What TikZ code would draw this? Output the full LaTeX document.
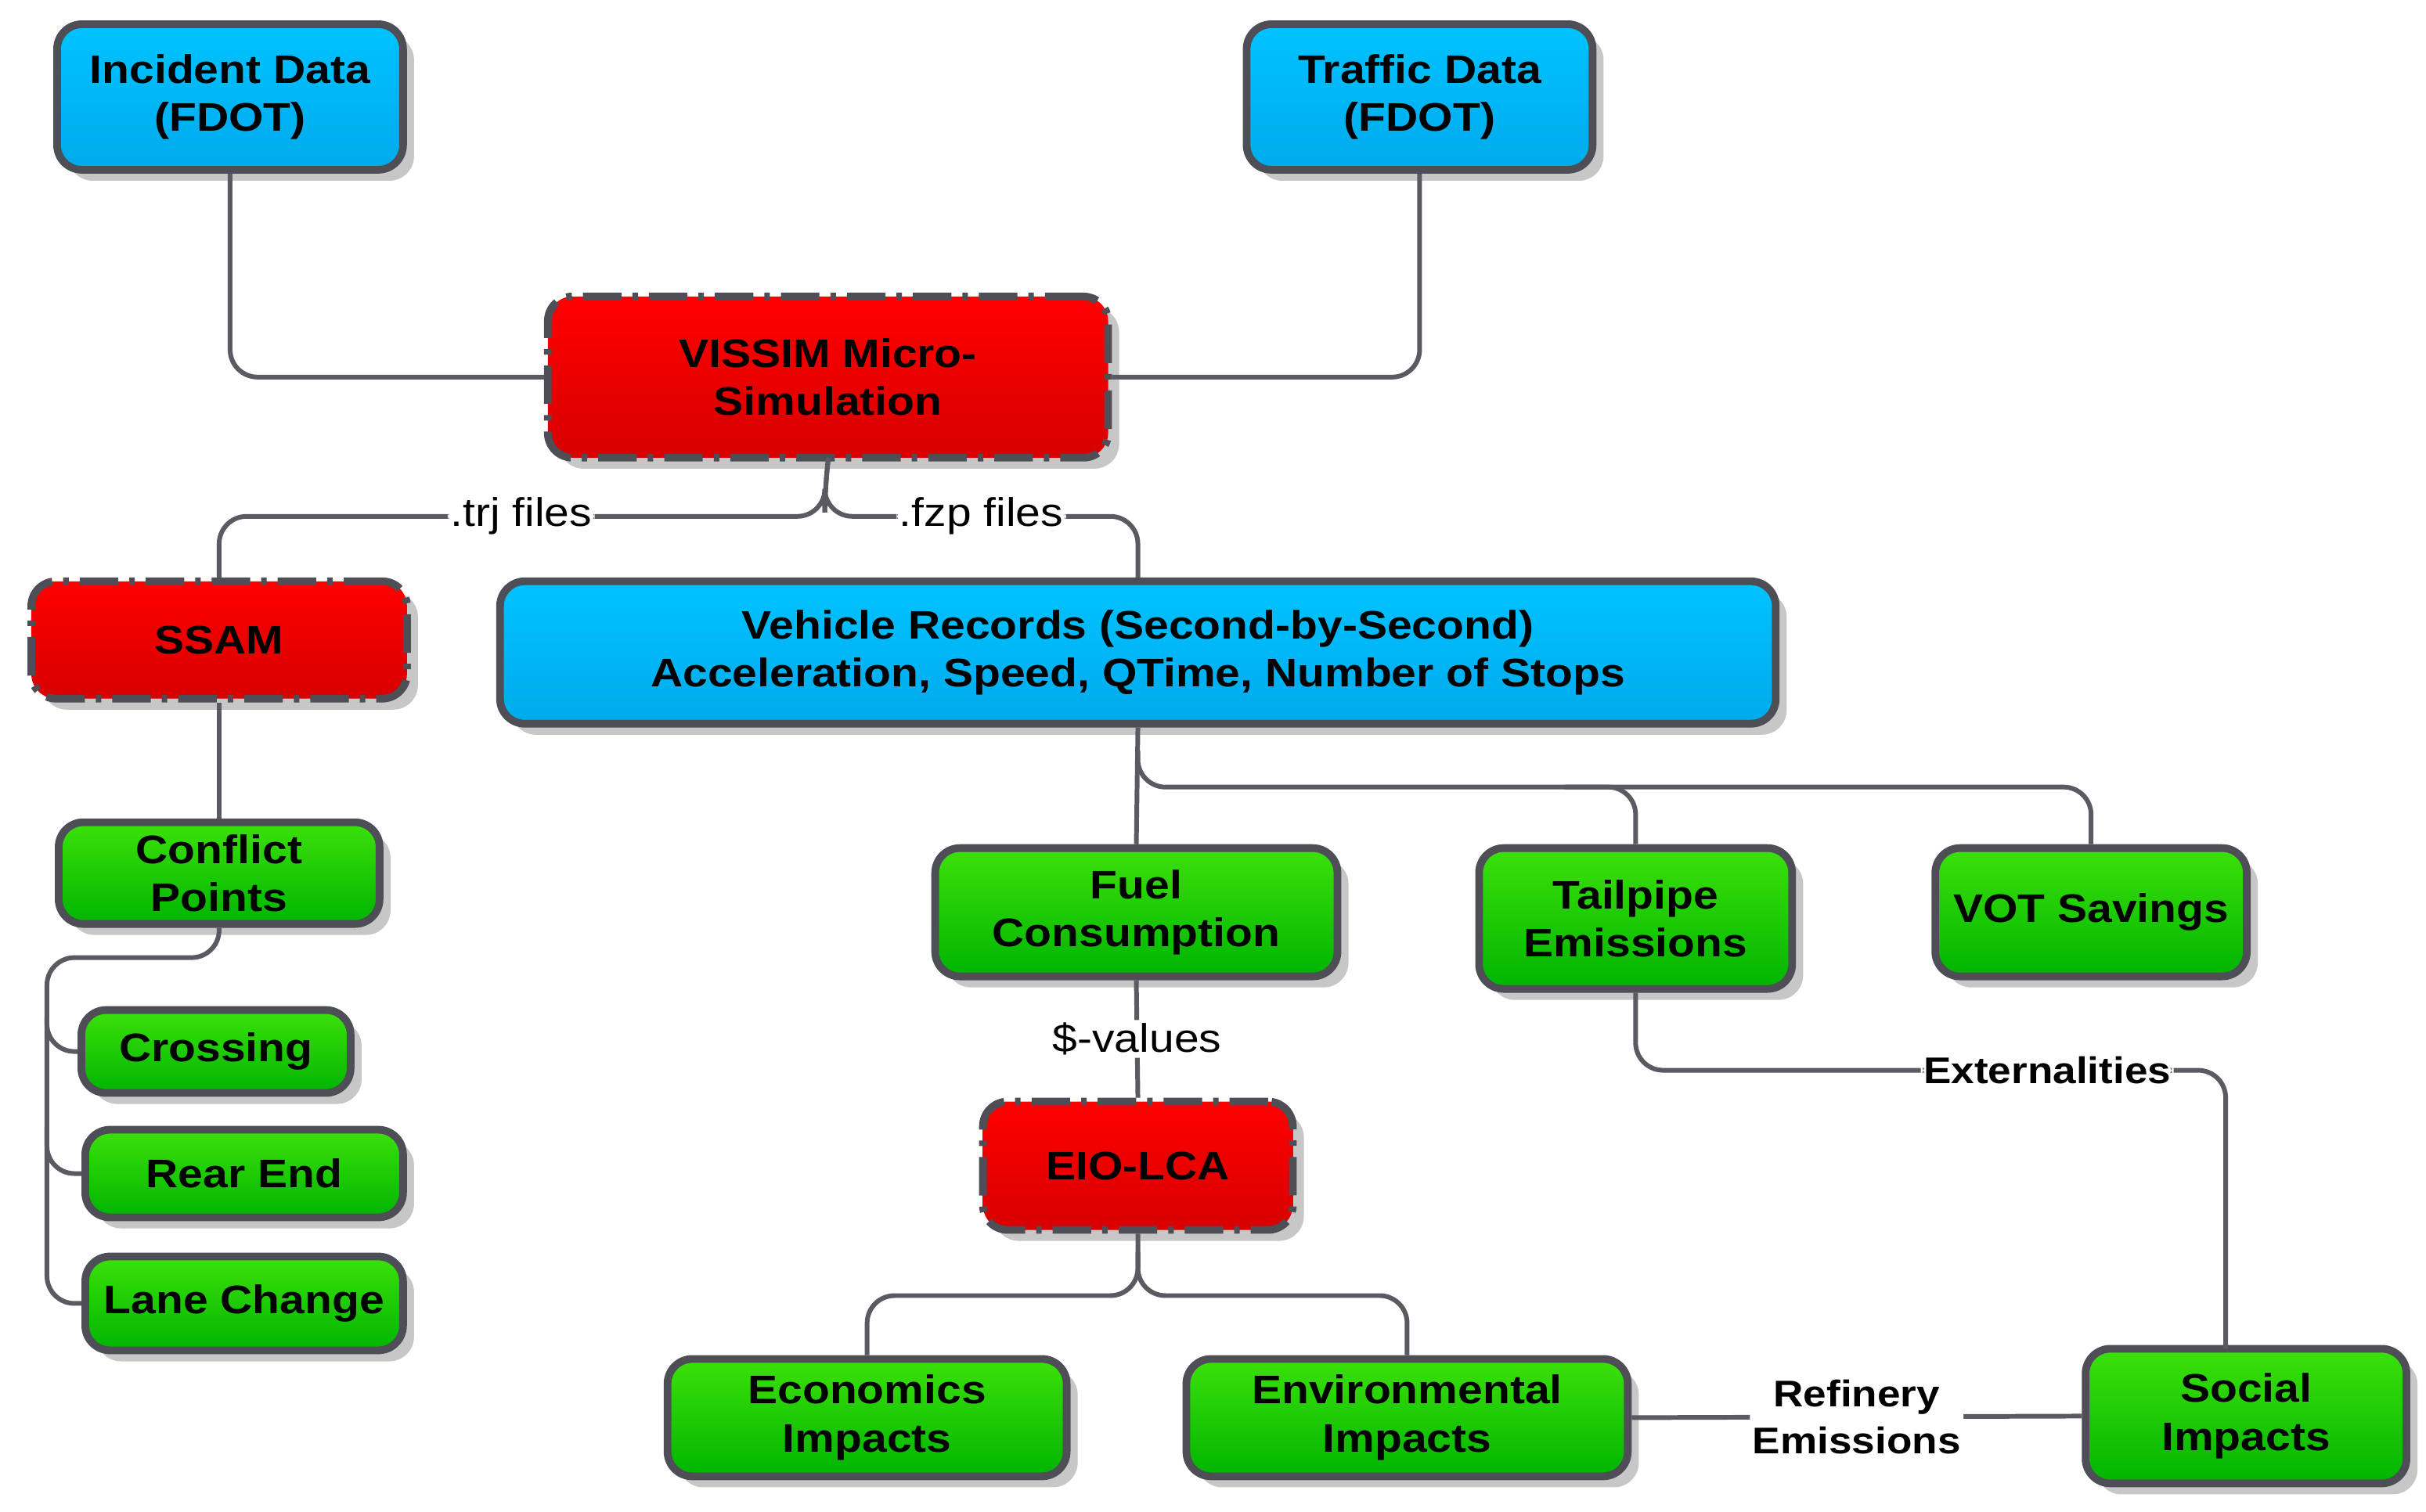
\documentclass[tikz,border=0pt]{standalone}
\usepackage{fontspec}
\setmainfont{Liberation Sans}[FakeStretch=1.12]
\usetikzlibrary{shadows}
\definecolor{bd}{HTML}{4E4E56}
\definecolor{ln}{HTML}{5A5A62}
\tikzset{
  x=0.02cm,y=-0.02cm,
  box/.style={draw=bd,line width=2.8pt,rounded corners=9pt,align=center,
    font=\bfseries\fontsize{14.5}{17.5}\selectfont,text=black,inner sep=0pt,
    drop shadow={shadow xshift=4pt,shadow yshift=-4pt,fill=black!22,opacity=1}},
  blue/.style={box,top color={rgb,255:red,0;green,195;blue,255},bottom color={rgb,255:red,0;green,170;blue,235}},
  red/.style={box,top color={rgb,255:red,255;green,0;blue,0},bottom color={rgb,255:red,215;green,0;blue,0},
    dash pattern=on 14pt off 4pt on 2pt off 4pt},
  green/.style={box,top color={rgb,255:red,60;green,225;blue,10},bottom color={rgb,255:red,0;green,180;blue,0}},
  con/.style={draw=ln,line width=1.7pt,rounded corners=10pt},
  lab/.style={fill=white,inner sep=1pt,font=\fontsize{14.5}{17}\selectfont},
  blab/.style={fill=white,inner sep=1pt,font=\bfseries\fontsize{13.5}{17}\selectfont,align=center},
}
\begin{document}
\begin{tikzpicture}
\useasboundingbox (0,0) rectangle (1550,966);
\fill[white] (0,0) rectangle (1550,966);
\node[blue,minimum width=221*0.02cm,minimum height=93*0.02cm] (inc) at (147,62) {Incident Data\\(FDOT)};
\node[blue,minimum width=221*0.02cm,minimum height=93*0.02cm] (tra) at (907,62) {Traffic Data\\(FDOT)};
\node[red,minimum width=358*0.02cm,minimum height=103*0.02cm] (vis) at (529,241) {VISSIM Micro-\\Simulation};
\node[red,minimum width=240*0.02cm,minimum height=75*0.02cm] (ssam) at (140,409) {SSAM};
\node[blue,minimum width=815*0.02cm,minimum height=91*0.02cm] (veh) at (727,417) {Vehicle Records (Second-by-Second)\\Acceleration, Speed, QTime, Number of Stops};
\node[green,minimum width=205*0.02cm,minimum height=65*0.02cm] (con) at (140,558) {Conflict\\Points};
\node[green,minimum width=172*0.02cm,minimum height=53*0.02cm] (cro) at (138,672) {Crossing};
\node[green,minimum width=203*0.02cm,minimum height=56*0.02cm] (rea) at (156,750) {Rear End};
\node[green,minimum width=203*0.02cm,minimum height=60*0.02cm] (lan) at (156,833) {Lane Change};
\node[green,minimum width=257*0.02cm,minimum height=82*0.02cm] (fue) at (726,583) {Fuel\\Consumption};
\node[green,minimum width=200*0.02cm,minimum height=90*0.02cm] (tai) at (1045,587) {Tailpipe\\Emissions};
\node[green,minimum width=199*0.02cm,minimum height=82*0.02cm] (vot) at (1336,583) {VOT Savings};
\node[red,minimum width=198*0.02cm,minimum height=82*0.02cm] (eio) at (727,745) {EIO-LCA};
\node[green,minimum width=255*0.02cm,minimum height=75*0.02cm] (eco) at (554,906) {Economics\\Impacts};
\node[green,minimum width=282*0.02cm,minimum height=75*0.02cm] (env) at (899,906) {Environmental\\Impacts};
\node[green,minimum width=205*0.02cm,minimum height=86*0.02cm] (soc) at (1435,905) {Social\\Impacts};
\draw[con] (inc.south) -- (147,241) -- (vis.west);
\draw[con] (tra.south) -- (907,241) -- (vis.east);
\draw[con] (vis.south) -- (527,310) |- (333,330) node[lab]{.trj files} -- (140,330) -- (ssam.north);
\draw[con] (vis.south) -- (527,310) |- (627,330) node[lab]{.fzp files} -- (727,330) -- (veh.north);
\draw[con] (ssam.south) -- (con.north);
\draw[con] (con.south) -- (140,612) -- (30,612) -- (30,672) -- (cro.west);
\draw[con] (30,650) -- (30,750) -- (rea.west);
\draw[con] (30,720) -- (30,833) -- (lan.west);
\draw[con] (veh.south) -- (fue.north);
\draw[con] (727,480) -- (727,503) -- (1045,503) -- (tai.north);
\draw[con] (1000,503) -- (1336,503) -- (vot.north);
\draw[con] (fue.south) -- node[lab]{\$-values} (eio.north);
\draw[con] (tai.south) -- (1045,684) -- (1308,684) node[blab]{Externalities} -- (1422,684) -- (1422,862);
\draw[con] (eio.south) -- (727,828) -- (554,828) -- (eco.north);
\draw[con] (727,800) -- (727,828) -- (899,828) -- (env.north);
\draw[con] (env.east) -- node[blab]{Refinery\\Emissions} (soc.west);
\end{tikzpicture}
\end{document}
